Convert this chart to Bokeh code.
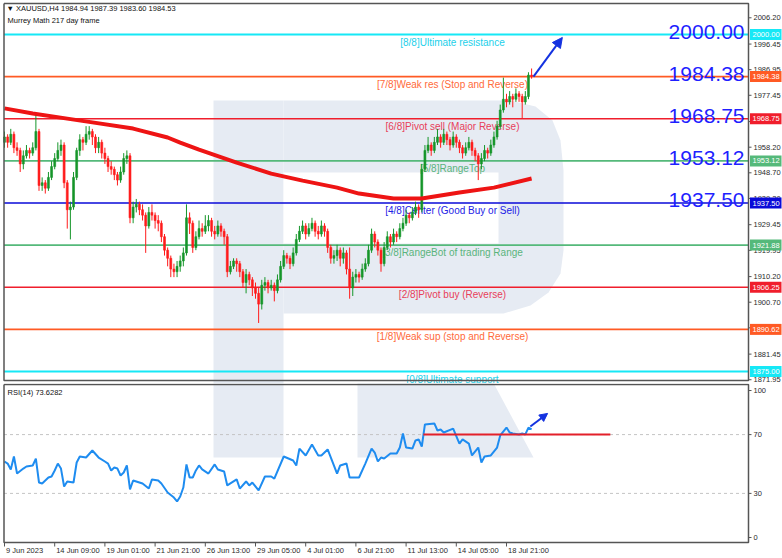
from bokeh.plotting import figure
from bokeh.layouts import column
from bokeh.models import Range1d, Arrow, NormalHead, ColumnDataSource
from bokeh.core.properties import value
from bokeh.embed import file_html
from bokeh.resources import INLINE

# ---------------- data ----------------
symbol_header = "\u25BC XAUUSD,H4  1984.94 1987.39 1983.60 1984.53"
indicator_header = "Murrey Math 217 day frame"
rsi_header = "RSI(14) 73.6282"

first_open = 1960
closes = [
    1962, 1960, 1963, 1958, 1957, 1952, 1955, 1957, 1956, 1958,
    1964, 1944, 1945, 1943, 1947, 1951, 1954, 1957, 1959, 1945,
    1935, 1936, 1947, 1957, 1961, 1960, 1963, 1964, 1962, 1958,
    1960, 1956, 1954, 1951, 1950, 1948, 1946, 1949, 1954, 1955,
    1932, 1936, 1937, 1935, 1933, 1929, 1934, 1933, 1931, 1930,
    1925, 1920, 1917, 1913, 1912, 1914, 1916, 1919, 1932, 1930,
    1921, 1925, 1928, 1927, 1929, 1931, 1927, 1926, 1929, 1927,
    1925, 1912, 1914, 1916, 1915, 1912, 1908, 1911, 1909, 1906,
    1904, 1900, 1907, 1908, 1906, 1907, 1905, 1909, 1914, 1918,
    1917, 1915, 1919, 1924, 1927, 1929, 1926, 1928, 1930, 1927,
    1926, 1929, 1927, 1921, 1917, 1918, 1920, 1917, 1919, 1913,
    1906, 1910, 1911, 1910, 1913, 1915, 1920, 1926, 1923, 1920,
    1915, 1921, 1925, 1923, 1926, 1925, 1928, 1930, 1933, 1932,
    1934, 1936, 1935, 1950, 1957, 1959, 1957, 1960, 1962, 1960,
    1963, 1961, 1959, 1962, 1960, 1958, 1956, 1958, 1960, 1957,
    1955, 1952, 1954, 1957, 1956, 1959, 1962, 1966, 1972, 1976,
    1975, 1977, 1976, 1978, 1977, 1975, 1977, 1984.94, 1984.53]
highs = [
    1964, 1963, 1965, 1964, 1960, 1958, 1957, 1959, 1958, 1960,
    1971, 1965, 1947, 1946, 1949, 1953, 1956, 1960, 1961, 1960,
    1946, 1938, 1949, 1958, 1963, 1962, 1966, 1966, 1965, 1963,
    1962, 1961, 1958, 1955, 1953, 1951, 1949, 1951, 1956, 1957,
    1956, 1938, 1939, 1938, 1937, 1934, 1936, 1937, 1934, 1933,
    1931, 1926, 1921, 1918, 1915, 1916, 1918, 1921, 1937, 1934,
    1931, 1927, 1931, 1930, 1933, 1933, 1932, 1929, 1931, 1930,
    1928, 1926, 1916, 1917, 1917, 1916, 1913, 1913, 1912, 1910,
    1908, 1906, 1909, 1910, 1909, 1909, 1908, 1911, 1916, 1920,
    1919, 1918, 1921, 1926, 1929, 1931, 1930, 1930, 1932, 1931,
    1929, 1931, 1930, 1928, 1922, 1920, 1922, 1921, 1921, 1920,
    1921, 1912, 1913, 1912, 1915, 1917, 1922, 1928, 1927, 1924,
    1921, 1923, 1927, 1926, 1928, 1927, 1930, 1932, 1935, 1934,
    1936, 1938, 1937, 1952, 1959, 1962, 1960, 1962, 1965, 1963,
    1965, 1964, 1962, 1964, 1963, 1961, 1959, 1960, 1962, 1961,
    1958, 1956, 1956, 1959, 1958, 1961, 1964, 1968, 1974, 1984,
    1978, 1979, 1978, 1980, 1979, 1978, 1979, 1986, 1987.39]
lows = [
    1958, 1958, 1959, 1956, 1955, 1949, 1950, 1954, 1954, 1955,
    1957, 1942, 1942, 1941, 1942, 1946, 1950, 1953, 1955, 1943,
    1928, 1924, 1935, 1946, 1955, 1957, 1959, 1961, 1959, 1956,
    1956, 1954, 1952, 1949, 1948, 1946, 1944, 1945, 1948, 1952,
    1930, 1930, 1934, 1933, 1931, 1919, 1928, 1931, 1928, 1927,
    1923, 1918, 1914, 1910, 1910, 1910, 1912, 1914, 1918, 1926,
    1919, 1920, 1924, 1925, 1926, 1927, 1925, 1924, 1925, 1925,
    1922, 1910, 1911, 1913, 1912, 1910, 1906, 1904, 1907, 1903,
    1902, 1893, 1898, 1905, 1904, 1905, 1901, 1904, 1908, 1913,
    1915, 1913, 1914, 1918, 1923, 1926, 1924, 1925, 1927, 1925,
    1924, 1925, 1925, 1919, 1915, 1915, 1916, 1914, 1915, 1911,
    1902, 1903, 1908, 1908, 1909, 1912, 1914, 1919, 1921, 1918,
    1912, 1914, 1920, 1921, 1922, 1923, 1924, 1927, 1929, 1930,
    1931, 1933, 1932, 1934, 1949, 1956, 1955, 1956, 1959, 1958,
    1959, 1959, 1957, 1958, 1958, 1956, 1954, 1955, 1957, 1955,
    1953, 1946, 1950, 1953, 1954, 1955, 1958, 1961, 1965, 1971,
    1973, 1974, 1973, 1975, 1975, 1969, 1974, 1976, 1983.60]

ma_bar = [0, 9, 20, 28, 41, 52, 56, 62, 74, 85, 95, 106, 113, 124, 133, 145, 156, 168]
ma_val = [1972.6, 1970.7, 1968.8, 1967.4, 1965.1, 1961.8, 1959.9, 1957.3, 1952.5,
          1948.4, 1945.8, 1943.2, 1941.0, 1939.2, 1939.2, 1941.4, 1943.2, 1946.6]

rsi_bar = [0, 1, 2, 3, 4, 6, 7, 9, 10, 11, 12, 14, 15, 16, 17, 18, 19, 20, 22, 23,
           24, 26, 28, 30, 32, 33, 34, 35, 36, 37, 38, 39, 40, 41, 42, 44, 46, 47, 49, 50,
           52, 54, 55, 56, 57, 58, 59, 60, 61, 62, 63, 65, 67, 68, 70, 71, 74, 75, 77, 78,
           79, 81, 83, 85, 86, 89, 92, 93, 94, 96, 98, 100, 101, 103, 106, 107, 109, 110, 113, 115,
           117, 118, 119, 120, 121, 123, 125, 126, 127, 128, 130, 131, 132, 133, 134, 137, 138, 139, 140, 143,
           145, 146, 148, 149, 151, 152, 153, 155, 157, 158, 160, 161, 162, 164, 165, 166, 167, 168]
rsi_val = [51.7, 50.3, 46.3, 55.1, 43.5, 46.9, 48.3, 49.0, 53.7, 37.4, 36.7, 40.8, 41.5, 45.6, 50.3, 46.9, 34.7, 38.1, 37.4, 51.0,
           55.1, 54.4, 59.2, 54.4, 51.7, 50.3, 45.6, 47.6, 46.9, 42.2, 44.2, 49.0, 32.7, 38.8, 38.1, 36.7, 33.3, 39.5, 38.8, 36.7,
           30.6, 27.2, 24.5, 27.9, 34.0, 49.7, 40.8, 40.8, 45.6, 49.0, 46.3, 43.5, 49.7, 46.3, 44.9, 35.4, 39.5, 33.3, 38.1, 35.4,
           37.4, 32.0, 41.5, 41.5, 40.1, 55.1, 52.4, 49.0, 60.5, 55.8, 63.3, 55.8, 55.8, 59.9, 43.5, 49.0, 50.3, 40.8, 40.8, 50.3,
           60.5, 57.8, 51.7, 54.4, 53.7, 57.1, 57.1, 61.2, 70.7, 61.2, 60.5, 66.0, 66.7, 61.9, 76.9, 77.6, 72.8, 73.5, 71.4, 74.1,
           63.9, 66.7, 63.9, 55.8, 61.2, 51.0, 55.1, 55.8, 61.2, 69.4, 74.8, 71.4, 70.7, 70.1, 70.7, 70.1, 74.8, 73.6]

murrey_levels = [2000.00, 1984.38, 1968.75, 1953.12, 1937.50, 1921.88, 1906.25, 1890.62, 1875.00]
murrey_texts = ["[8/8]Ultimate resistance", "[7/8]Weak res (Stop and Reverse)",
                "[6/8]Pivot sell (Major Reverse)", "[5/8]RangeTop",
                "[4/8]Center (Good Buy or Sell)", "[3/8]RangeBot of trading Range",
                "[2/8]Pivot buy (Reverse)", "[1/8]Weak sup (stop and Reverse)",
                "[0/8]Ultimate support"]
murrey_tags = ["2000.00", "1984.38", "1968.75", "1953.12", "1937.50",
               "1921.88", "1906.25", "1890.62", "1875.00"]
big_levels = [2000.00, 1984.38, 1968.75, 1953.12, 1937.50]
big_texts = ["2000.00", "1984.38", "1968.75", "1953.12", "1937.50"]

price_ticks = [2006.20, 1996.45, 1986.95, 1977.45, 1967.70, 1958.20, 1948.70, 1939.20,
               1929.45, 1919.95, 1910.20, 1900.70, 1891.20, 1881.45, 1871.95]
rsi_ticks = [100, 70, 30, 0]
rsi_levels = [70, 30]
rsi_red_level = 70
date_ticks = [0, 16, 32, 48, 64, 80, 96, 112, 128, 144, 160]
date_labels = ["9 Jun 2023", "14 Jun 09:00", "19 Jun 01:00", "21 Jun 21:00", "26 Jun 13:00",
               "29 Jun 05:00", "4 Jul 01:00", "6 Jul 21:00", "11 Jul 13:00", "14 Jul 05:00",
               "18 Jul 21:00"]

# ---------------- layout / styles ----------------
FONT = "Liberation Sans"
CYAN, ORANGE, RED, GREEN, BLUE = "#16e8f6", "#ff5a24", "#f01e2c", "#55b97a", "#0a0ad8"
level_line_colors = [CYAN, ORANGE, RED, GREEN, BLUE, GREEN, RED, ORANGE, CYAN]
level_text_colors = ["#22d0ea", "#ff6a3a", "#e8405a", "#5ab47c", "#2222e6",
                     "#5ab47c", "#e8405a", "#ff6a3a", "#22d0ea"]
level_widths = [2, 1.6, 1.6, 1.6, 1.6, 1.6, 1.6, 1.6, 2]
BULL, BEAR = "#16962a", "#ff1c1c"
WM = "#e6ebf3"
ARROW_C = "#1432e0"
BORDER = "#555555"
AXIS_TXT = "#2a2a2a"

W, H_MAIN, H_RSI = 782, 383, 175
BAR_PX, BAR0_PX = 3.1375, 4.0          # horizontal scale: px per bar, px of bar 0
USD_PX, Y2000_PX = 2.696, 34.0         # main panel scale
RSI_PX, RSI0_PX = 1.47, 537.0          # RSI panel scale (page px of RSI = 0)
RSI_TOP_PX = H_MAIN


def bx(px):      # page x -> bar index
    return (px - BAR0_PX) / BAR_PX


def py(px):      # page y -> price
    return 2000.0 - (px - Y2000_PX) / USD_PX


def ry(px):      # page y -> RSI value
    return (RSI0_PX - px) / RSI_PX


X0, X1 = bx(0), bx(W)
Y1, Y0 = py(0), py(H_MAIN)
R1, R0 = ry(RSI_TOP_PX), ry(RSI_TOP_PX + H_RSI)
LEFT_B, RIGHT_B = bx(3.5), bx(748)

opens = [first_open] + closes[:-1]
bars = list(range(len(closes)))
ccol = [BULL if c > o else BEAR for o, c in zip(opens, closes)]
src = ColumnDataSource(dict(x=bars, h=highs, l=lows,
                            top=[max(o, c) for o, c in zip(opens, closes)],
                            bot=[min(o, c) for o, c in zip(opens, closes)], col=ccol))


def make_fig(h, yr):
    f = figure(width=W, height=h, x_range=Range1d(X0, X1), y_range=yr,
               output_backend="svg", toolbar_location=None, x_axis_location=None,
               y_axis_location=None, min_border=0, min_border_left=0, min_border_right=0,
               min_border_top=0, min_border_bottom=0, outline_line_color=None)
    f.grid.visible = False
    return f


# ---------------- main panel ----------------
p = make_fig(H_MAIN, Range1d(Y0, Y1))

# watermark "R"
p.patch([bx(213), bx(283), bx(283), bx(213)], [py(100), py(100), py(383), py(383)],
        fill_color=WM, line_color=None)
bowl_px = [(283, 100), (510, 100), (535, 106), (552, 120), (560, 140), (563, 170), (563, 250),
           (560, 273), (548, 292), (530, 305), (503, 313), (283, 313)]
p.patch([bx(a) for a, b in bowl_px], [py(b) for a, b in bowl_px], fill_color=WM, line_color=None)
p.patch([bx(283), bx(498), bx(498), bx(283)], [py(172), py(172), py(243), py(243)],
        fill_color="white", line_color=None)

# Murrey levels
for lvl, lc, lw in zip(murrey_levels, level_line_colors, level_widths):
    p.segment(x0=LEFT_B, y0=lvl, x1=RIGHT_B, y1=lvl, line_color=lc, line_width=lw)

txt_src = ColumnDataSource(dict(x=[bx(452)] * len(murrey_levels),
                                y=[v - 7.5 / USD_PX for v in murrey_levels],
                                t=murrey_texts, c=level_text_colors))
p.text(x="x", y="y", text="t", text_color="c", source=txt_src, text_align="center",
       text_baseline="middle", text_font=value(FONT), text_font_size="10px")

# candles
p.segment(x0="x", y0="l", x1="x", y1="h", line_color="col", line_width=1, source=src)
p.vbar(x="x", width=0.62, bottom="bot", top="top", fill_color="col", line_color="col",
       line_width=0.6, source=src)

# moving average
p.line(ma_bar, ma_val, line_color="#ee1414", line_width=4)

# big level numbers
p.text(x=[bx(744)] * len(big_levels), y=[v + 3 / USD_PX for v in big_levels], text=big_texts,
       text_color="#1f1fff", text_align="right", text_baseline="alphabetic",
       text_font=value(FONT), text_font_size="21px")

# header
p.text(x=[bx(6), bx(7)], y=[py(8), py(19.5)],
       text=[symbol_header, indicator_header], text_color="#111111",
       text_align="left", text_baseline="middle", text_font=value(FONT), text_font_size="7.5px")

# arrow
p.add_layout(Arrow(end=NormalHead(size=10, fill_color=ARROW_C, line_color=ARROW_C),
                   x_start=168.6, y_start=1984.4, x_end=177.8, y_end=1998.9,
                   line_color=ARROW_C, line_width=2))

# frame border
p.line([LEFT_B, RIGHT_B, RIGHT_B, LEFT_B, LEFT_B],
       [py(3), py(3), py(380), py(380), py(3)], line_color=BORDER, line_width=1.5)

# right price axis (ticks + labels)
p.segment(x0=[RIGHT_B] * len(price_ticks), y0=price_ticks,
          x1=[bx(751)] * len(price_ticks), y1=price_ticks, line_color=BORDER, line_width=1)
p.text(x=[bx(753)] * len(price_ticks), y=price_ticks, text=["%.2f" % t for t in price_ticks],
       text_color=AXIS_TXT, text_align="left", text_baseline="middle",
       text_font=value(FONT), text_font_size="7.5px")

# price tags
tag_h = 11 / USD_PX
p.quad(left=[bx(749.5)] * len(murrey_levels), right=[bx(781)] * len(murrey_levels),
       bottom=[v - tag_h / 2 for v in murrey_levels], top=[v + tag_h / 2 for v in murrey_levels],
       fill_color=level_line_colors, line_color=None)
p.text(x=[bx(752)] * len(murrey_levels), y=murrey_levels, text=murrey_tags, text_color="white",
       text_align="left", text_baseline="middle", text_font=value(FONT), text_font_size="7.5px")

# ---------------- RSI panel ----------------
p2 = make_fig(H_RSI, Range1d(R0, R1))

p2.patch([bx(213), bx(283), bx(283), bx(213)], [ry(375), ry(375), ry(457), ry(457)],
         fill_color=WM, line_color=None)
p2.patch([bx(357), bx(489), bx(533), bx(357)], [ry(375), ry(375), ry(457), ry(457)],
         fill_color=WM, line_color=None)

for lv in rsi_levels:
    p2.segment(x0=LEFT_B, y0=lv, x1=RIGHT_B, y1=lv, line_color="#c4c4c4",
               line_width=1, line_dash="3 3")

p2.line(rsi_bar, rsi_val, line_color="#1e8cf0", line_width=2)
p2.segment(x0=133.5, y0=rsi_red_level, x1=193.1, y1=rsi_red_level, line_color="#e3202a", line_width=2)
p2.add_layout(Arrow(end=NormalHead(size=8, fill_color=ARROW_C, line_color=ARROW_C),
                    x_start=167.6, y_start=75.5, x_end=173.1, y_end=84.4,
                    line_color=ARROW_C, line_width=2))

p2.text(x=[bx(7)], y=[ry(392)], text=[rsi_header], text_color="#111111",
        text_align="left", text_baseline="middle", text_font=value(FONT), text_font_size="7.5px")

# frame border
p2.line([LEFT_B, RIGHT_B, RIGHT_B, LEFT_B, LEFT_B],
        [ry(384), ry(384), ry(542), ry(542), ry(384)], line_color=BORDER, line_width=1.5)

# right RSI axis
p2.segment(x0=[RIGHT_B] * len(rsi_ticks), y0=rsi_ticks,
           x1=[bx(751)] * len(rsi_ticks), y1=rsi_ticks, line_color=BORDER, line_width=1)
p2.text(x=[bx(753)] * len(rsi_ticks), y=rsi_ticks, text=[str(t) for t in rsi_ticks],
        text_color=AXIS_TXT, text_align="left", text_baseline="middle",
        text_font=value(FONT), text_font_size="7.5px")

# time axis
p2.segment(x0=date_ticks, y0=[ry(542)] * len(date_ticks), x1=date_ticks,
           y1=[ry(546)] * len(date_ticks), line_color=BORDER, line_width=1)
p2.text(x=[t + 1.5 / BAR_PX for t in date_ticks], y=[ry(549.5)] * len(date_ticks),
        text=date_labels, text_color=AXIS_TXT, text_align="left", text_baseline="middle",
        text_font=value(FONT), text_font_size="7.5px")

layout = column(p, p2, spacing=0)
open("out.html", "w").write(file_html(layout, INLINE))
